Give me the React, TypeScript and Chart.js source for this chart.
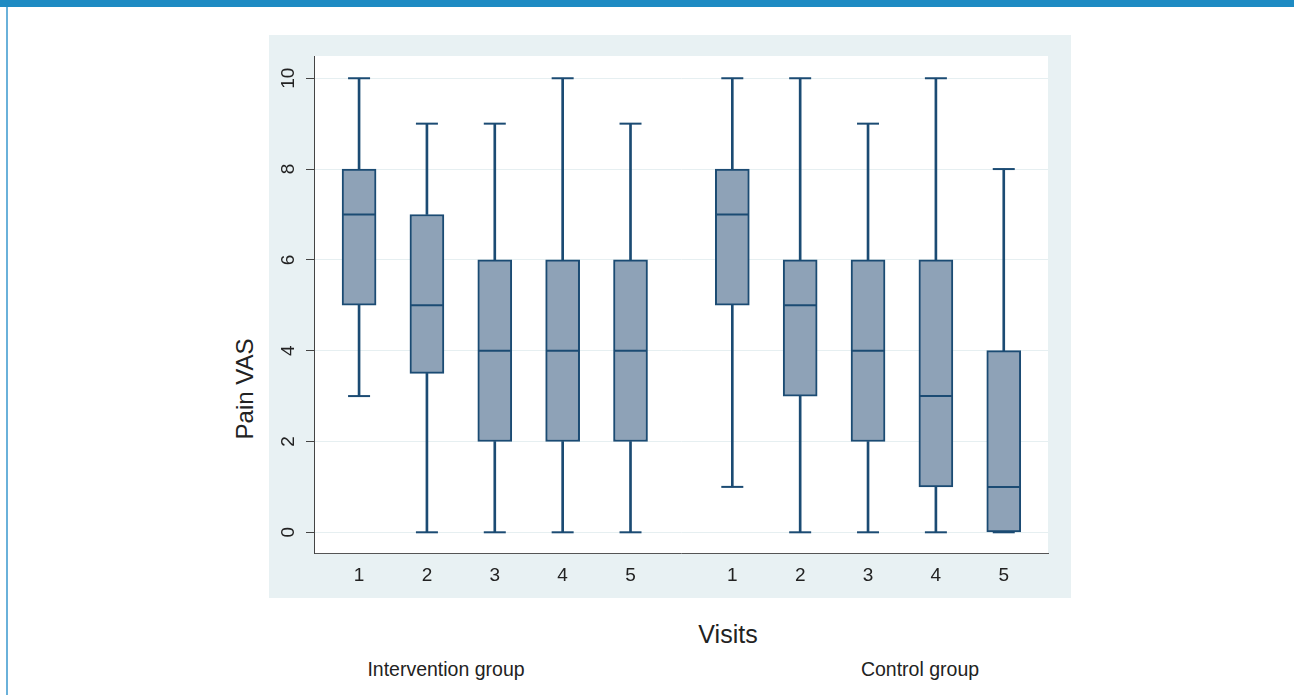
import React, { useEffect, useRef } from 'react';
import { Chart, registerables } from 'chart.js';

Chart.register(...registerables);

const groupNames = ['Intervention group', 'Control group'];
const visitLabels = ['1', '2', '3', '4', '5', '1', '2', '3', '4', '5'];
const xPositions = [1, 2, 3, 4, 5, 6.5, 7.5, 8.5, 9.5, 10.5];
const whiskerLow = [3, 0, 0, 0, 0, 1, 0, 0, 0, 0];
const q1 = [5, 3.5, 2, 2, 2, 5, 3, 2, 1, 0];
const median = [7, 5, 4, 4, 4, 7, 5, 4, 3, 1];
const q3 = [8, 7, 6, 6, 6, 8, 6, 6, 6, 4];
const whiskerHigh = [10, 9, 9, 10, 9, 10, 10, 9, 10, 8];
const yTicks = [0, 2, 4, 6, 8, 10];

const NAVY = '#1b4b73';
const FILL = '#8ea2b7';
const FONT = "'Liberation Sans', Arial, sans-serif";

const areaBg = {
  id: 'areaBg',
  beforeDraw(chart: any) {
    const { ctx, chartArea: a } = chart;
    ctx.save();
    ctx.fillStyle = '#ffffff';
    ctx.fillRect(a.left, a.top, a.right - a.left, a.bottom - a.top);
    ctx.restore();
  },
};

export default function App() {
  const ref = useRef<HTMLCanvasElement>(null);

  useEffect(() => {
    if (!ref.current) return;
    const pts = (arr: number[]) => xPositions.map((x, i) => ({ x, y: arr[i] }));
    const capStyle = {
      type: 'line' as const,
      showLine: false,
      pointStyle: 'line',
      pointRadius: 11,
      pointHoverRadius: 11,
      pointBorderWidth: 2,
      pointBorderColor: NAVY,
      borderColor: NAVY,
      order: 1,
    };
    const chart = new Chart(ref.current, {
      type: 'bar',
      data: {
        datasets: [
          {
            type: 'line',
            label: 'median',
            data: pts(median),
            showLine: false,
            pointStyle: 'line',
            pointRadius: 16,
            pointHoverRadius: 16,
            pointBorderWidth: 2,
            pointBorderColor: NAVY,
            borderColor: NAVY,
            order: 0,
          } as any,
          { ...capStyle, label: 'lower adjacent', data: pts(whiskerLow) } as any,
          { ...capStyle, label: 'upper adjacent', data: pts(whiskerHigh) } as any,
          {
            type: 'bar',
            label: 'box',
            data: xPositions.map((x, i) => ({ x, y: [q1[i], q3[i]] })),
            backgroundColor: FILL,
            borderColor: NAVY,
            borderWidth: 2,
            borderSkipped: false,
            barThickness: 34,
            grouped: false,
            order: 2,
          } as any,
          {
            type: 'bar',
            label: 'lower whisker',
            data: xPositions.map((x, i) => ({ x, y: [whiskerLow[i], q1[i]] })),
            backgroundColor: NAVY,
            borderWidth: 0,
            barThickness: 2,
            grouped: false,
            order: 3,
          } as any,
          {
            type: 'bar',
            label: 'upper whisker',
            data: xPositions.map((x, i) => ({ x, y: [q3[i], whiskerHigh[i]] })),
            backgroundColor: NAVY,
            borderWidth: 0,
            barThickness: 2,
            grouped: false,
            order: 3,
          } as any,
        ],
      },
      options: {
        responsive: false,
        animation: false,
        events: [],
        layout: { padding: { top: 21, right: 23, left: 0, bottom: 0 } },
        plugins: { legend: { display: false }, tooltip: { enabled: false } },
        scales: {
          x: {
            type: 'linear',
            min: 0.336,
            max: 11.152,
            offset: false,
            grid: { display: true, color: 'rgba(0,0,0,0)', drawTicks: false },
            border: { display: true, color: '#555555', width: 1 },
            ticks: {
              autoSkip: false,
              maxRotation: 0,
              padding: 11,
              color: '#222222',
              font: { size: 19, family: FONT },
              callback: (_v: any, i: number) => visitLabels[i],
            },
            afterBuildTicks: (s: any) => {
              s.ticks = xPositions.map((v) => ({ value: v }));
            },
            afterFit: (s: any) => {
              s.height = 45;
            },
          },
          y: {
            type: 'linear',
            min: -0.456,
            max: 10.49,
            grid: {
              color: '#e6eff1',
              lineWidth: 1,
              drawTicks: true,
              tickLength: 8,
              tickColor: '#444444',
            },
            border: { display: true, color: '#444444', width: 1 },
            ticks: {
              minRotation: 90,
              maxRotation: 90,
              crossAlign: 'center',
              padding: 7,
              color: '#222222',
              font: { size: 19, family: FONT },
            },
            afterBuildTicks: (s: any) => {
              s.ticks = yTicks.map((v) => ({ value: v }));
            },
            afterFit: (s: any) => {
              s.width = 45;
            },
          },
        },
      } as any,
      plugins: [areaBg],
    });
    return () => chart.destroy();
  }, []);

  const text = (s: string, cx: number, cy: number, size: number, rotate = false) => (
    <div
      style={{
        position: 'absolute',
        left: cx,
        top: cy,
        transform: `translate(-50%, -50%)${rotate ? ' rotate(-90deg)' : ''}`,
        fontFamily: FONT,
        fontSize: size,
        color: '#222222',
        whiteSpace: 'nowrap',
        lineHeight: 1,
      }}
    >
      {s}
    </div>
  );

  return (
    <div style={{ position: 'absolute', left: 0, top: 0, width: 1294, height: 695, background: '#ffffff', overflow: 'hidden' }}>
      <div style={{ position: 'absolute', left: 0, top: 0, width: 1294, height: 7, background: '#1e8bc3' }} />
      <div style={{ position: 'absolute', left: 6, top: 7, width: 2, height: 688, background: '#6ab1da' }} />
      <div style={{ position: 'absolute', left: 269, top: 35, width: 802, height: 563, background: '#e8f1f3' }}>
        <canvas ref={ref} width={802} height={563} style={{ display: 'block' }} />
      </div>
      {text('Pain VAS', 245, 389, 24, true)}
      {text('Visits', 728, 634, 25)}
      {text(groupNames[0], 446, 670, 19.5)}
      {text(groupNames[1], 920, 670, 19.5)}
    </div>
  );
}
